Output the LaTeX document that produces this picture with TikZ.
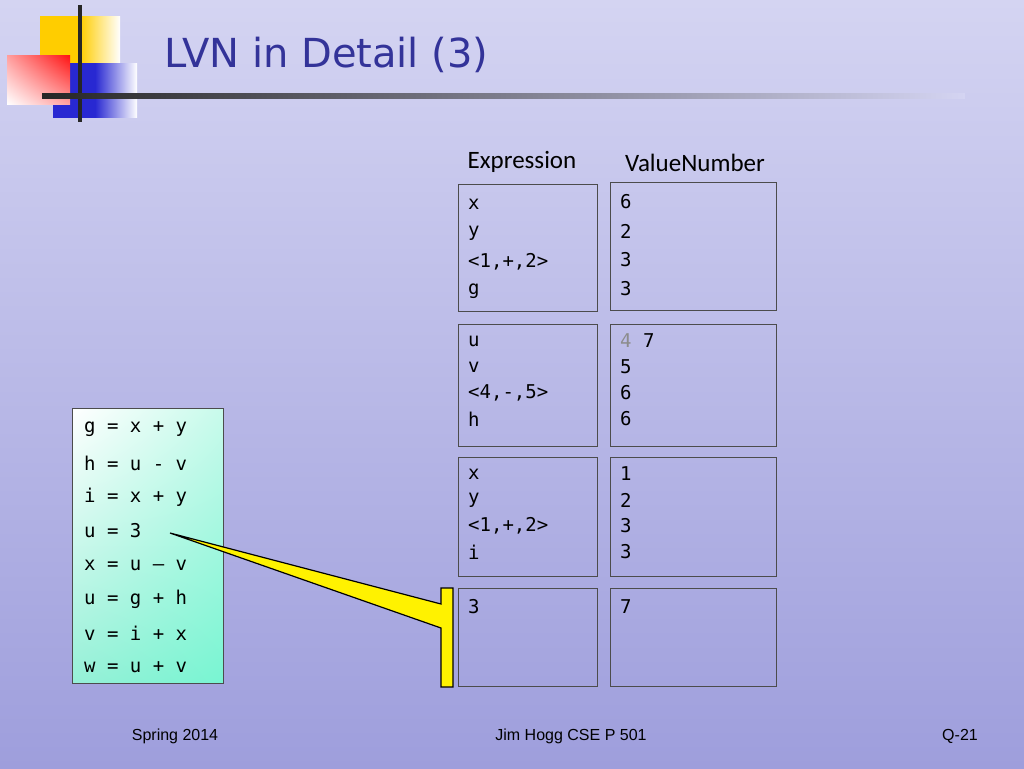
\documentclass[tikz,border=0pt]{standalone}
\usepackage{fontspec}
\usetikzlibrary{shadings}
\setmainfont{Liberation Sans}
\setmonofont{DejaVu Sans Mono}
\newfontfamily\hdr{Carlito}
\newfontfamily\ttl{DejaVu Sans}
\definecolor{bgtop}{RGB}{212,212,242}
\definecolor{bgbot}{RGB}{158,158,220}
\definecolor{lyel}{RGB}{255,205,0}
\definecolor{lblu}{RGB}{40,40,210}
\definecolor{lred}{RGB}{255,20,20}
\definecolor{lred2}{RGB}{255,160,160}
\definecolor{ttlc}{RGB}{51,51,153}
\definecolor{aq1}{RGB}{200,250,235}
\definecolor{aq2}{RGB}{150,240,215}
\definecolor{aq3}{RGB}{120,245,210}
\begin{document}
\begin{tikzpicture}[x=1pt,y=-1pt,
  tbl/.style={draw=black!70,line width=0.8pt,fill=none},
  mono/.style={anchor=west,inner sep=0,font=\ttfamily\fontsize{19}{19}\selectfont},
  foot/.style={font=\fontsize{16}{16}\selectfont,inner sep=0}]
\useasboundingbox (0,0) rectangle (1024,768);
\shade[top color=bgtop,bottom color=bgbot] (0,0) rectangle (1024,768);
% logo
\shade[left color=lyel,right color=white,middle color=lyel] (40,17) rectangle (120,97);
\shade[left color=lblu,right color=white,middle color=lblu] (53,63) rectangle (137,117);
\shade[upper right=lred,lower left=white,upper left=lred2,lower right=lred2] (7,56) rectangle (70,104);
\draw[line width=4pt,black!85] (80,5) -- (80,122);
\shade[left color=black!85,right color=bgtop] (42,93) rectangle (965,98);
\node[anchor=west,inner sep=0,text=ttlc,font=\ttl\fontsize{40}{40}\selectfont] (title) at (164,55) {LVN in Detail (3)};
% headers
\node[font=\hdr\fontsize{25}{25}\selectfont,inner sep=0] (hE) at (522,162) {Expression};
\node[font=\hdr\fontsize{25}{25}\selectfont,inner sep=0] (hV) at (695,163) {ValueNumber};
% boxes
\draw[tbl] (458,184) rectangle (597,311);
\draw[tbl] (610,182) rectangle (776,310);
\draw[tbl] (458,324) rectangle (597,446);
\draw[tbl] (610,324) rectangle (776,446);
\draw[tbl] (458,457) rectangle (597,576);
\draw[tbl] (610,457) rectangle (776,576);
\draw[tbl] (458,588) rectangle (597,686);
\draw[tbl] (610,588) rectangle (776,686);
\foreach \t [count=\i] in {x,y,{<1,+,2>},g} \node[mono] at (468,{175+29*\i}) {\t};
\foreach \t [count=\i] in {6,2,3,3} \node[mono] at (620,{173+29*\i}) {\t};
\foreach \t [count=\i] in {u,v,{<4,-,5>},h} \node[mono] at (468,{315+26*\i}) {\t};
\node[mono] at (620,341) {\textcolor{black!45}{4} 7};
\foreach \t [count=\i] in {5,6,6} \node[mono] at (620,{341+26*\i}) {\t};
\foreach \t [count=\i] in {x,y,{<1,+,2>},i} \node[mono] at (468,{448+26*\i}) {\t};
\foreach \t [count=\i] in {1,2,3,3} \node[mono] at (620,{448+26*\i}) {\t};
\node[mono] at (468,607) {3};
\node[mono] at (620,607) {7};
% code box
\shade[upper left=white,upper right=aq1,lower left=aq2,lower right=aq3] (72,408) rectangle (223,683);
\draw[black!70,line width=0.8pt] (72,408) rectangle (223,683);
\foreach \t [count=\i] in {g = x + y,h = u - v,i = x + y,u = 3,x = u – v,u = g + h,v = i + x,w = u + v}
  \node[mono] at (84,{395+34*\i}) {\t};
% callout
\draw[fill=yellow,line width=1.2pt,line join=miter] (170,533) -- (441,604) -- (441,588) -- (453,588) -- (453,687) -- (441,687) -- (441,628) -- cycle;
% footer
\node[foot] (f1) at (175,736) {Spring 2014};
\node[foot] (f2) at (571,736) {Jim Hogg CSE P 501};
\node[foot] (f3) at (960,736) {Q-21};
\end{tikzpicture}
\end{document}
